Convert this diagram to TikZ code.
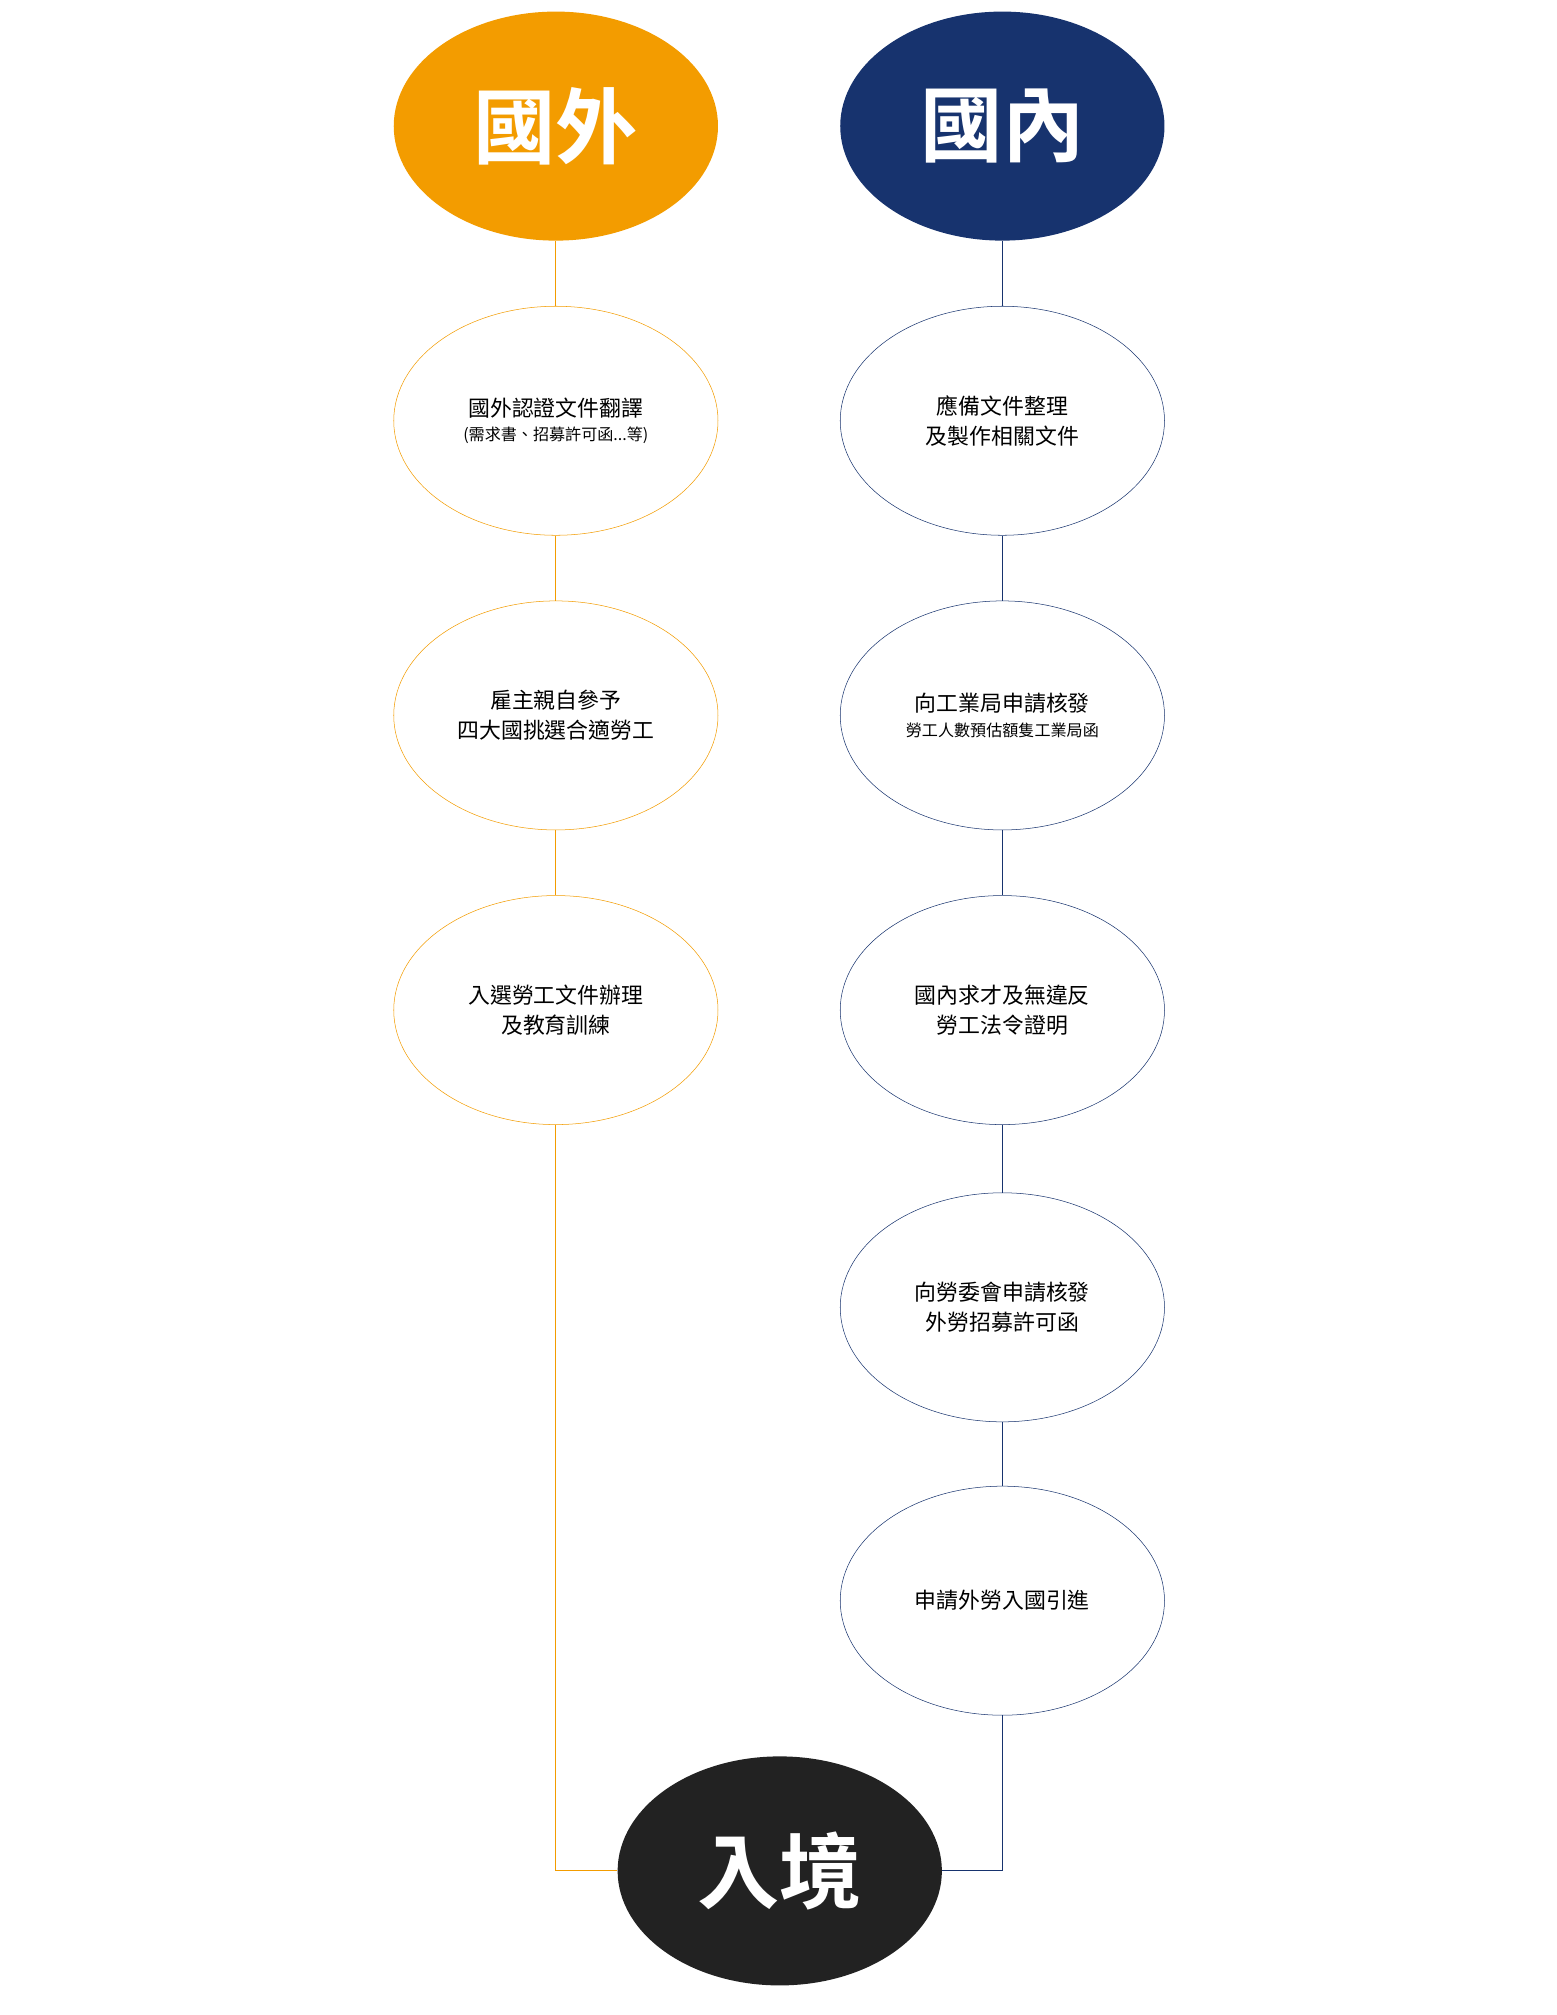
\documentclass[tikz,border=0pt]{standalone}
\usepackage{fontspec}
\newfontfamily\cjk{Noto Sans CJK TC}
\newfontfamily\cjkb{Noto Sans CJK TC Bold}
\definecolor{org}{HTML}{F39C00}
\definecolor{nav}{HTML}{17336E}
\definecolor{blk}{HTML}{222222}
\begin{document}
\begin{tikzpicture}[x=1pt,y=1pt,
  el/.style={ellipse,minimum width=252pt,minimum height=178pt,inner sep=0pt,align=center,font=\cjk\fontsize{17}{23}\selectfont},
  oel/.style={el,draw=org,fill=white},
  nel/.style={el,draw=nav,fill=white},
  big/.style={ellipse,minimum width=252pt,minimum height=178pt,inner sep=0pt,text=white,font=\cjkb\fontsize{64}{70}\selectfont},
  oln/.style={draw=org,line width=0.8pt},
  nln/.style={draw=nav,line width=0.8pt}]
\usetikzlibrary{shapes.geometric}
\useasboundingbox (0,0) rectangle (1210,-1566);
\node[big,fill=org] (a0) at (432,-98) {國外};
\node[big,fill=nav] (b0) at (779,-98) {國內};
\node[oel] (a1) at (432,-327) {國外認證文件翻譯\\[-4pt]{\fontsize{12.5}{15}\selectfont (需求書、招募許可函...等)}};
\node[oel] (a2) at (432,-556) {雇主親自參予\\四大國挑選合適勞工};
\node[oel] (a3) at (432,-785) {入選勞工文件辦理\\及教育訓練};
\node[nel] (b1) at (779,-327) {應備文件整理\\及製作相關文件};
\node[nel] (b2) at (779,-556) {向工業局申請核發\\[-4pt]{\fontsize{12.5}{15}\selectfont 勞工人數預估額隻工業局函}};
\node[nel] (b3) at (779,-785) {國內求才及無違反\\勞工法令證明};
\node[nel] (b4) at (779,-1016) {向勞委會申請核發\\外勞招募許可函};
\node[nel] (b5) at (779,-1244) {申請外勞入國引進};
\node[big,fill=blk] (c) at (606,-1454) {入境};
\draw[oln] (a0.south) -- (a1.north) (a1.south) -- (a2.north) (a2.south) -- (a3.north);
\draw[oln] (a3.south) |- (c.west);
\draw[nln] (b0.south) -- (b1.north) (b1.south) -- (b2.north) (b2.south) -- (b3.north) (b3.south) -- (b4.north) (b4.south) -- (b5.north);
\draw[nln] (b5.south) |- (c.east);
\end{tikzpicture}
\end{document}
